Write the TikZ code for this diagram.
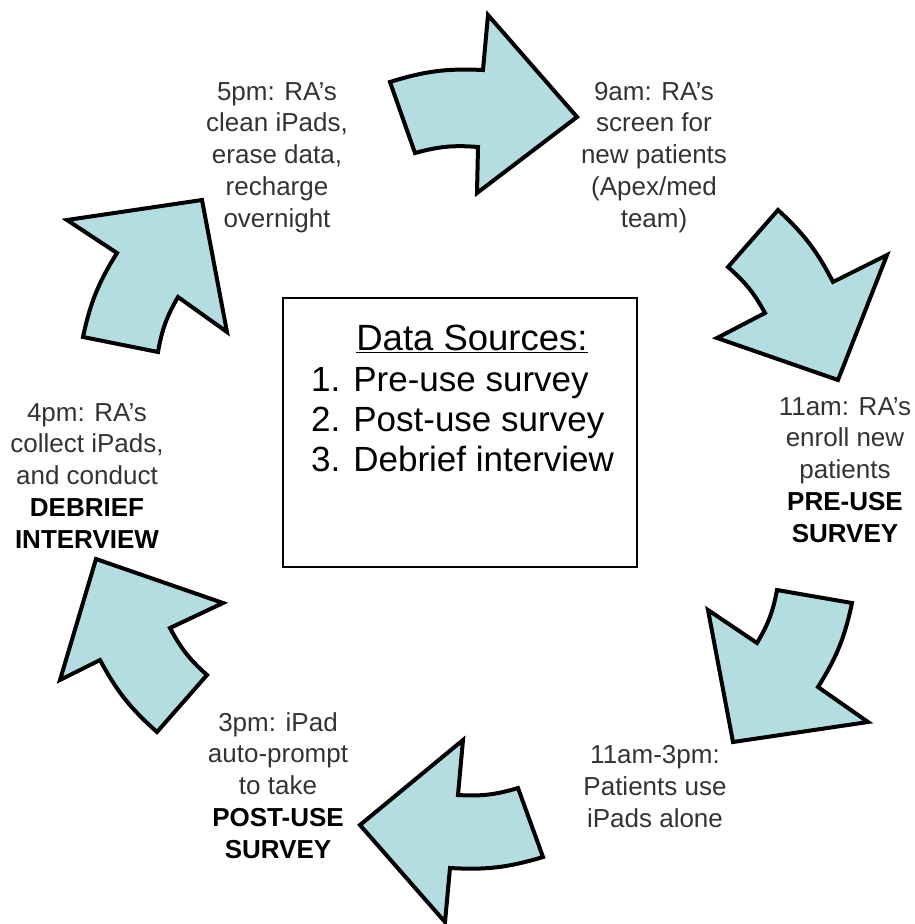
\documentclass[tikz,border=0pt]{standalone}
\usepackage{fontspec}
\setmainfont{Liberation Sans}
\definecolor{arrowfill}{HTML}{B4DDE2}
\definecolor{txt}{HTML}{333333}
\begin{document}
\begin{tikzpicture}[x=1pt,y=1pt,
  cyc/.style={fill=arrowfill, draw=black, line width=4pt, line join=miter, miter limit=6},
  lbl/.style={align=center, anchor=base, inner sep=0pt, text=txt, font=\fontsize{26}{31.7}\selectfont},
  srcbox/.style={draw=black, line width=2.5pt, minimum width=354pt, minimum height=269pt, inner sep=0pt},
  srctxt/.style={inner sep=0pt, text=black, font=\fontsize{35}{40}\selectfont},
  bendo/.style={bend left=10},
  bendi/.style={bend right=10}
]
\useasboundingbox (0,0) rectangle (914,-924);

% arrow 1 (top, pointing right)
\draw[cyc] (390,-82) to[bendo] (483,-70) -- (488,-15) -- (577,-117) -- (477,-193) -- (478,-147) to[bendi] (415,-153) -- cycle;
% arrow 2 (upper right, pointing down-right)
\draw[cyc] (778,-210) to[bendo] (833,-282) -- (887,-255) -- (838,-380) -- (717,-338) -- (765,-313) to[bendi] (728,-267) -- cycle;
% arrow 3 (lower right, pointing down-left)
\draw[cyc] (852,-603) to[bendo] (818,-687) -- (868,-722) -- (733,-742) -- (708,-610) -- (757,-643) to[bendi] (777,-590) -- cycle;
% arrow 4 (bottom, pointing left)
\draw[cyc] (543,-857) to[bendo] (450,-868) -- (445,-922) -- (360,-825) -- (463,-740) -- (458,-795) to[bendi] (518,-788) -- cycle;
% arrow 5 (lower left, pointing up-left)
\draw[cyc] (157,-732) to[bendo] (100,-660) -- (60,-680) -- (96,-559) -- (223,-603) -- (170,-628) to[bendi] (207,-675) -- cycle;
% arrow 6 (upper left, pointing up-right)
\draw[cyc] (83,-337) to[bendo] (117,-253) -- (67,-220) -- (202,-200) -- (227,-332) -- (178,-297) to[bendi] (158,-352) -- cycle;

% central box
\node[srcbox] (box) at (460,-432.5) {};
\node[srctxt, anchor=base, font=\fontsize{36.5}{40}\selectfont] (title) at (472,-350) {\underline{Data Sources:}};
\node[srctxt, anchor=base west, align=left] (list) at (311,-471) {1. Pre-use survey\\2. Post-use survey\\3. Debrief interview};

% labels (anchor = baseline of last line)
\node[lbl] (l5pm) at (277,-227) {5pm: RA’s\\clean iPads,\\erase data,\\recharge\\overnight};
\node[lbl] (l9am) at (654,-227) {9am: RA’s\\screen for\\new patients\\(Apex/med\\team)};
\node[lbl] (l11am) at (845,-542) {11am: RA’s\\enroll new\\patients\\\textcolor{black}{\textbf{PRE-USE}}\\\textcolor{black}{\textbf{SURVEY}}};
\node[lbl] (l113) at (655,-827) {11am-3pm:\\Patients use\\iPads alone};
\node[lbl] (l3pm) at (278,-858) {3pm: iPad\\auto-prompt\\to take\\\textcolor{black}{\textbf{POST-USE}}\\\textcolor{black}{\textbf{SURVEY}}};
\node[lbl] (l4pm) at (87,-548) {4pm: RA’s\\collect iPads,\\and conduct\\\textcolor{black}{\textbf{DEBRIEF}}\\\textcolor{black}{\textbf{INTERVIEW}}};
\end{tikzpicture}
\end{document}
